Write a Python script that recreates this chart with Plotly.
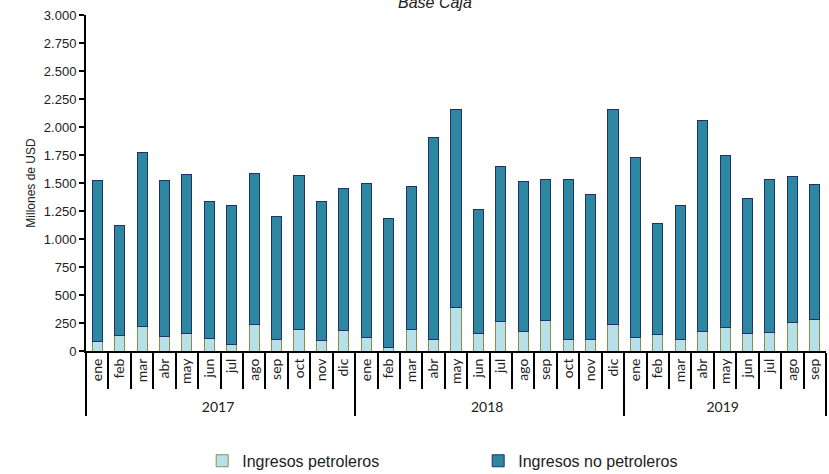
import plotly.graph_objects as go

years = ["2017"] * 12 + ["2018"] * 12 + ["2019"] * 9
months_all = ["ene", "feb", "mar", "abr", "may", "jun", "jul", "ago", "sep", "oct", "nov", "dic"]
months = months_all * 2 + months_all[:9]

# Ingresos totales (altura de la barra) y petroleros, millones de USD
totales = [
    1525, 1125, 1775, 1525, 1580, 1335, 1300, 1585, 1205, 1570, 1335, 1455,
    1500, 1180, 1470, 1905, 2155, 1260, 1650, 1510, 1530, 1535, 1400, 2160,
    1729, 1140, 1303, 2054, 1747, 1363, 1527, 1556, 1488,
]
petroleros = [
    85, 140, 215, 130, 160, 115, 55, 240, 105, 190, 90, 180,
    125, 35, 190, 105, 385, 160, 265, 175, 270, 105, 105, 235,
    119, 149, 101, 170, 208, 158, 161, 253, 283,
]
no_petroleros = [t - p for t, p in zip(totales, petroleros)]

fig = go.Figure()
fig.add_trace(
    go.Bar(
        x=[years, months],
        y=petroleros,
        name="Ingresos petroleros",
        marker={"color": "#B7E1EA", "line": {"color": "#8E8E45", "width": 1}},
    )
)
fig.add_trace(
    go.Bar(
        x=[years, months],
        y=no_petroleros,
        name="Ingresos no petroleros",
        marker={"color": "#2E87A0", "line": {"color": "#22306E", "width": 1}},
    )
)

fig.update_layout(
    barmode="stack",
    bargap=0.55,
    width=829,
    height=474,
    margin={"l": 86, "r": 3, "t": 15, "b": 123, "autoexpand": False},
    plot_bgcolor="white",
    paper_bgcolor="white",
    separators=",.",
    font={"family": "Liberation Sans, Arial", "size": 13, "color": "#222222"},
    showlegend=True,
    legend={
        "orientation": "h",
        "x": 0.157,
        "xanchor": "left",
        "y": -0.327,
        "yanchor": "middle",
        "entrywidth": 231,
        "entrywidthmode": "pixels",
        "font": {"size": 16},
        "traceorder": "normal",
    },
)

fig.update_yaxes(
    range=[0, 3000],
    dtick=250,
    tickformat=",d",
    automargin=False,
    showgrid=False,
    showline=True,
    linecolor="black",
    linewidth=2,
    ticks="outside",
    ticklen=5,
    tickwidth=2,
    tickcolor="black",
    title={"text": "Millones de USD", "font": {"size": 12}, "standoff": 6},
)
fig.update_xaxes(
    type="multicategory",
    range=[-0.5, 32.5],
    automargin=False,
    showgrid=False,
    showline=True,
    linecolor="black",
    linewidth=2,
    ticks="outside",
    ticklen=36,
    tickwidth=2,
    tickcolor="black",
    tickangle=-90,
    tickfont={"family": "Lato, Liberation Sans", "size": 14},
    showdividers=True,
    dividercolor="black",
    dividerwidth=2,
)

fig.add_annotation(
    text="<i>Base Caja</i>",
    xref="paper",
    yref="paper",
    x=0.472,
    y=1,
    yanchor="middle",
    yshift=13,
    showarrow=False,
    font={"size": 16},
)

# drop the default body margin so the figure sits at the page corner
fig.write_html(
    "out.html",
    config={"displayModeBar": False},
    post_script="document.body.style.margin = '0';",
)
